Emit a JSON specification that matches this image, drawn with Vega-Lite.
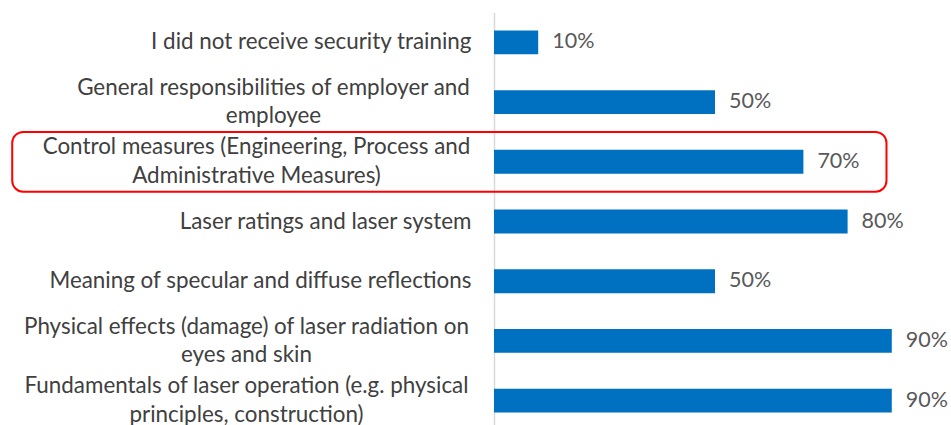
{
  "$schema": "https://vega.github.io/schema/vega-lite/v6.json",
  "width": 442,
  "height": 418,
  "autosize": "none",
  "padding": {"left": 494, "top": 12.5, "right": 15, "bottom": 0},
  "background": "white",
  "config": {"view": {"stroke": null}, "font": "Lato"},
  "data": {
    "values": [
      {"label": "I did not receive security training", "share": 0.1, "highlight": false},
      {"label": "General responsibilities of employer and\nemployee", "share": 0.5, "highlight": false},
      {"label": "Control measures (Engineering, Process and\nAdministrative Measures)", "share": 0.7, "highlight": true},
      {"label": "Laser ratings and laser system", "share": 0.8, "highlight": false},
      {"label": "Meaning of specular and diffuse reflections", "share": 0.5, "highlight": false},
      {"label": "Physical effects (damage) of laser radiation on\neyes and skin", "share": 0.9, "highlight": false},
      {"label": "Fundamentals of laser operation (e.g. physical\nprinciples, construction)", "share": 0.9, "highlight": false}
    ]
  },
  "encoding": {
    "y": {
      "field": "label",
      "type": "nominal",
      "sort": null,
      "scale": {"paddingInner": 0.6, "paddingOuter": 0.3},
      "axis": {
        "title": null,
        "ticks": false,
        "labelExpr": "split(datum.label, '\\n')",
        "labelFont": "Lato",
        "labelFontSize": 22.4,
        "labelColor": "#404040",
        "labelLineHeight": 28.6,
        "labelLimit": 490,
        "labelAlign": {"condition": {"test": "indexof(datum.value, '\\n') >= 0", "value": "center"}, "value": "right"},
        "labelOffset": {"condition": {"test": "indexof(datum.value, '\\n') >= 0", "value": -14.3}, "value": 0},
        "labelPadding": {
          "condition": [
            {"test": "indexof(datum.value, 'General') === 0", "value": 221},
            {"test": "indexof(datum.value, 'Control') === 0", "value": 238},
            {"test": "indexof(datum.value, 'Physical') === 0", "value": 248},
            {"test": "indexof(datum.value, 'Fundamentals') === 0", "value": 248}
          ],
          "value": 23
        },
        "domainColor": "#D9D9D9",
        "domainWidth": 1.5
      }
    },
    "x": {
      "field": "share",
      "type": "quantitative",
      "scale": {"domain": [0, 1]},
      "axis": null
    }
  },
  "layer": [
    {"mark": {"type": "bar", "color": "#0070C0"}},
    {
      "mark": {"type": "text", "align": "left", "baseline": "middle", "dx": 14, "fontSize": 21.5, "font": "Lato", "color": "#595959"},
      "encoding": {"text": {"field": "share", "type": "quantitative", "format": ".0%"}}
    },
    {
      "transform": [{"filter": "datum.highlight"}],
      "mark": {"type": "bar", "fillOpacity": 0, "stroke": "#FF0000", "strokeWidth": 2, "cornerRadius": 11, "height": {"band": 2.5}},
      "encoding": {"x": {"datum": -1.09}, "x2": {"datum": 0.888}}
    }
  ]
}
